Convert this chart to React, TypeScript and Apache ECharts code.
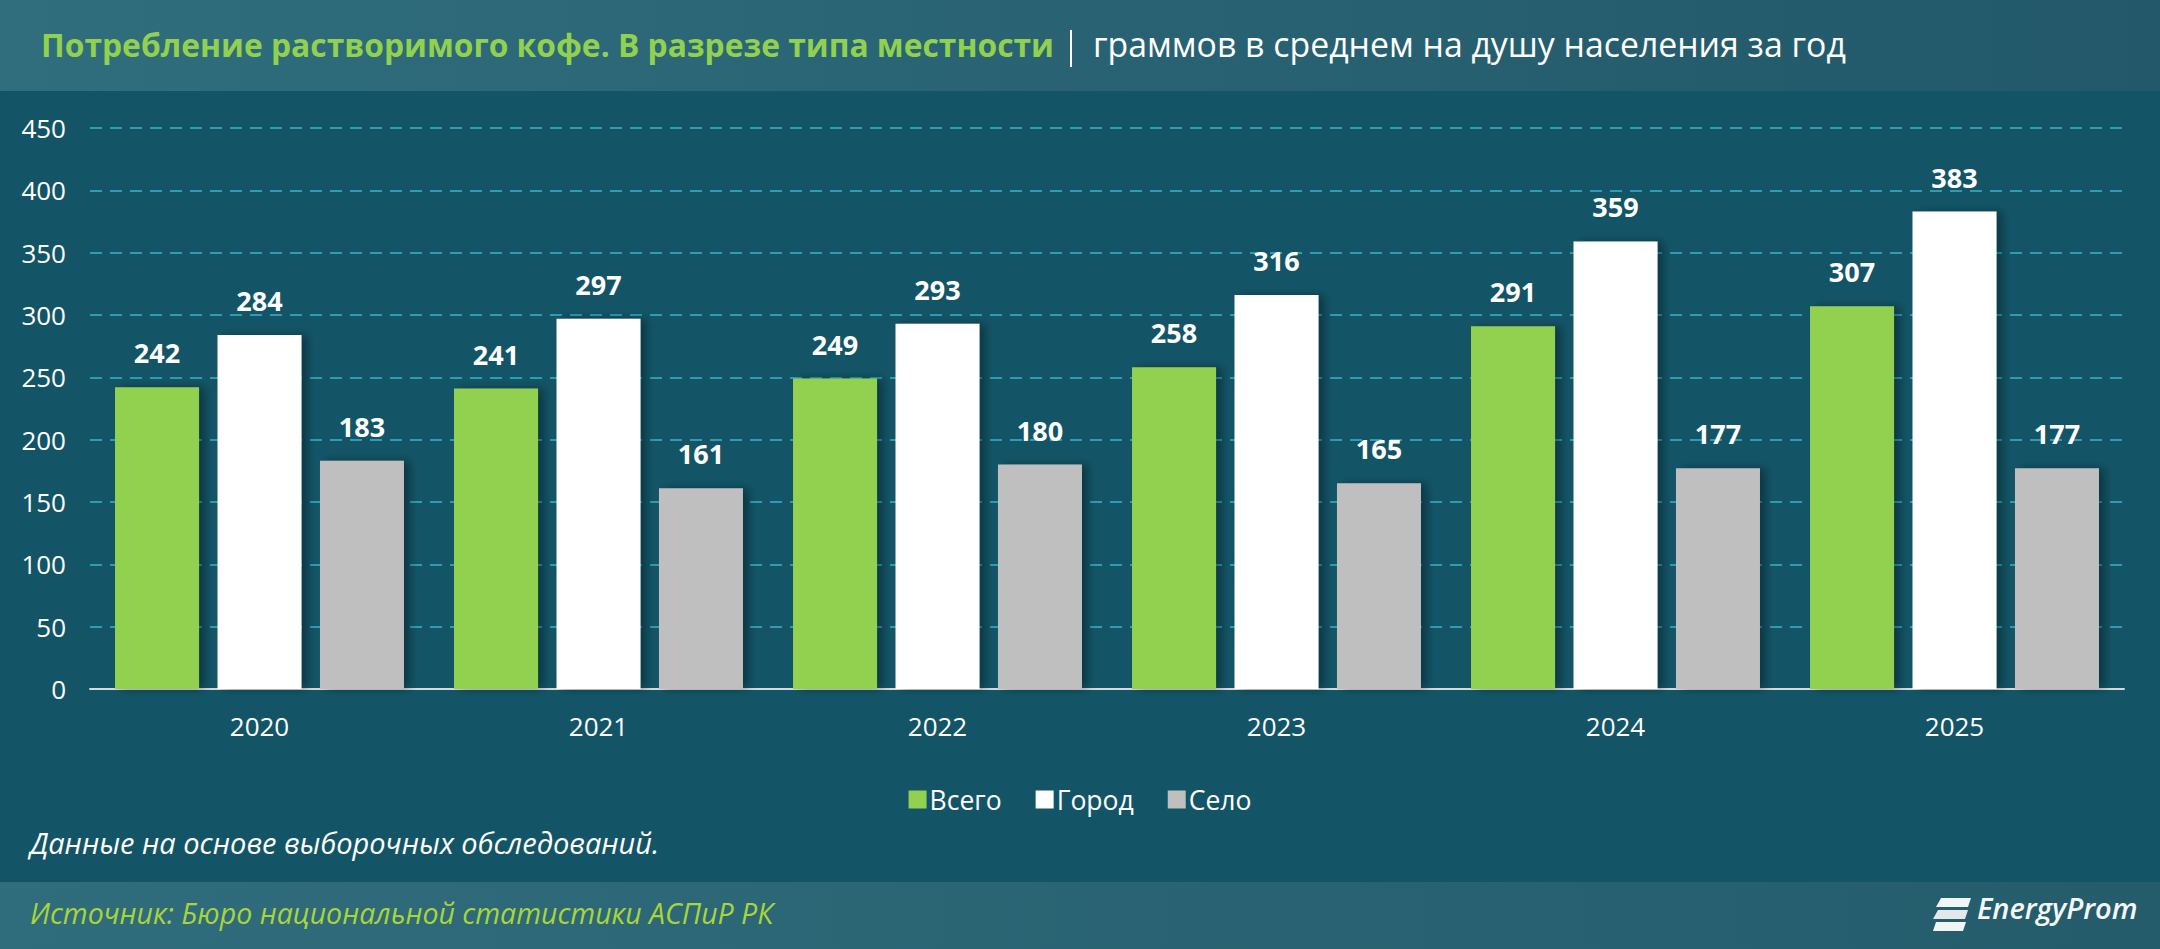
import React, { useEffect, useRef } from "react";
import * as echarts from "echarts";

const years = ["2020", "2021", "2022", "2023", "2024", "2025"];
const seriesNames = ["Всего", "Город", "Село"];
const totalValues = [242, 241, 249, 258, 291, 307];
const cityValues = [284, 297, 293, 316, 359, 383];
const ruralValues = [183, 161, 180, 165, 177, 177];
const seriesColors = ["#92d050", "#ffffff", "#bfbfbf"];

const titleText = "Потребление растворимого кофе. В разрезе типа местности";
const subtitleText = "граммов в среднем на душу населения за год";
const noteText = "Данные на основе выборочных обследований.";
const sourceText = "Источник: Бюро национальной статистики АСПиР РК";
const logoText = "EnergyProm";

const FONT = "'Open Sans', 'Noto Sans', sans-serif";

export default function App() {
  const ref = useRef<HTMLDivElement>(null);

  useEffect(() => {
    if (!ref.current) return;
    const chart = echarts.init(ref.current, null, { renderer: "svg" });
    const values = [totalValues, cityValues, ruralValues];

    const option: any = {
      animation: false,
      backgroundColor: "#135567",
      textStyle: { fontFamily: FONT },
      grid: { left: 90, right: 36, top: 128, bottom: 260, containLabel: false },
      legend: {
        data: seriesNames,
        left: "center",
        top: 781,
        itemWidth: 18,
        itemHeight: 18,
        itemGap: 34,
        icon: "rect",
        textStyle: { color: "#ffffff", fontSize: 26.5, fontFamily: FONT, padding: [0, 0, 0, -2] },
      },
      xAxis: {
        type: "category",
        data: years,
        axisLine: { lineStyle: { color: "#d9d9d9", width: 2 } },
        axisTick: { show: false },
        axisLabel: { color: "#ffffff", fontSize: 26, margin: 24, fontFamily: FONT },
        splitLine: { show: false },
      },
      yAxis: {
        type: "value",
        min: 0,
        max: 450,
        interval: 50,
        axisLine: { show: false },
        axisTick: { show: false },
        axisLabel: { color: "#ffffff", fontSize: 26, margin: 24, fontFamily: FONT },
        splitLine: { lineStyle: { color: "#2f9cb4", type: [12, 8], width: 2 } },
      },
      series: seriesNames.map((name, i) => ({
        name,
        type: "bar",
        data: values[i],
        barWidth: 84,
        barGap: "22%",
        itemStyle: {
          color: seriesColors[i],
          shadowColor: "rgba(0,0,0,0.35)",
          shadowBlur: 10,
          shadowOffsetX: 6,
          shadowOffsetY: 0,
        },
        label: {
          show: true,
          position: "top",
          distance: 21,
          color: "#ffffff",
          fontSize: 27,
          fontWeight: "bold",
          fontFamily: FONT,
        },
      })),
      graphic: [
        {
          type: "rect",
          left: 0,
          top: 0,
          z: -10,
          shape: { width: 2160, height: 91 },
          style: {
            fill: new echarts.graphic.LinearGradient(0, 0, 1, 0, [
              { offset: 0, color: "#306e7d" },
              { offset: 1, color: "#225869" },
            ]),
          },
        },
        {
          type: "text",
          left: 41,
          top: 28,
          style: {
            text: titleText,
            fill: "#92d050",
            fontSize: 31.8,
            fontWeight: "bold",
            fontFamily: FONT,
          },
        },
        {
          type: "rect",
          left: 1070,
          top: 30,
          shape: { width: 2, height: 37 },
          style: { fill: "#ffffff" },
        },
        {
          type: "text",
          left: 1093,
          top: 27,
          style: {
            text: subtitleText,
            fill: "#ffffff",
            fontSize: 33.8,
            fontFamily: FONT,
          },
        },
        {
          type: "text",
          left: 30,
          top: 828,
          style: {
            text: noteText,
            fill: "#ffffff",
            fontSize: 29,
            fontStyle: "italic",
            fontFamily: FONT,
          },
        },
        {
          type: "rect",
          left: 0,
          top: 882,
          z: -10,
          shape: { width: 2160, height: 67 },
          style: {
            fill: new echarts.graphic.LinearGradient(0, 0, 1, 0, [
              { offset: 0, color: "#306d7c" },
              { offset: 1, color: "#245c6c" },
            ]),
          },
        },
        {
          type: "text",
          left: 30,
          top: 898,
          style: {
            text: sourceText,
            fill: "#a8d43c",
            fontSize: 28.5,
            fontStyle: "italic",
            fontFamily: FONT,
          },
        },
        {
          type: "group",
          left: 1933,
          top: 893,
          children: [
            { type: "polygon", shape: { points: [[8, 0], [38, 0], [35, 9], [3, 9]] }, style: { fill: "#f2f5f6" } },
            { type: "polygon", shape: { points: [[5, 12], [35, 12], [32, 21], [0, 21]] }, style: { fill: "#e3e9eb" } },
            { type: "polygon", shape: { points: [[3, 24], [33, 24], [30, 33], [0, 33]] }, style: { fill: "#f2f5f6" } },
            {
              type: "text",
              x: 44,
              y: -5,
              style: {
                text: logoText,
                fill: "#f4f7f8",
                fontSize: 29,
                fontStyle: "italic",
                fontWeight: 600,
                fontFamily: FONT,
              },
            },
          ],
        },
      ],
    };

    chart.setOption(option);
    return () => chart.dispose();
  }, []);

  return (
    <div
      ref={ref}
      style={{ position: "absolute", left: 0, top: 0, width: 2160, height: 949 }}
    />
  );
}
